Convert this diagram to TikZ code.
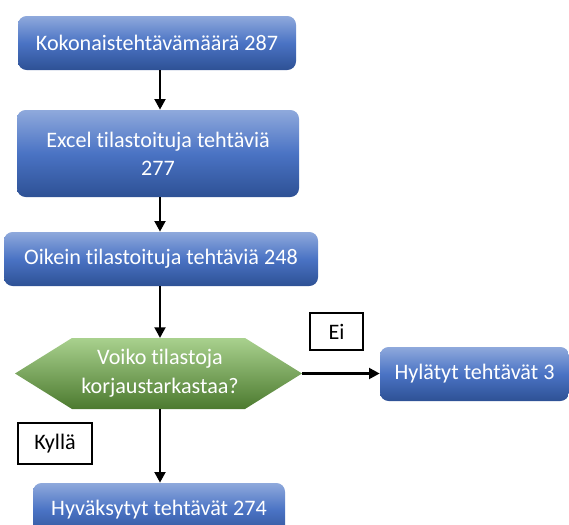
\documentclass[tikz,border=0pt]{standalone}
\usepackage{fontspec}
\setmainfont{Carlito}[Ligatures=NoCommon]
\usetikzlibrary{arrows.meta}
\definecolor{btop}{HTML}{8FA9DC}
\definecolor{bmid}{HTML}{4A73C4}
\definecolor{bbot}{HTML}{2E5195}
\definecolor{gtop}{HTML}{A9D18E}
\definecolor{gmid}{HTML}{74B04A}
\definecolor{gbot}{HTML}{4C7A2F}
\tikzset{
  bluebox/.style={rounded corners=6.5pt, shading=axis, top color=btop, bottom color=bbot, middle color=bmid,
    text=white, align=center, font=\fontsize{16.6}{21}\selectfont, inner sep=0pt},
  labelbox/.style={draw=black, line width=1.2pt, fill=white, text=black, font=\fontsize{16.6}{20}\selectfont, inner sep=0pt},
  flow/.style={line width=2pt, -{Triangle[length=8pt,width=8pt]}},
}
\begin{document}
\begin{tikzpicture}[x=0.75pt,y=-0.75pt]
\useasboundingbox (0,0) rectangle (569,525);
\begin{scope}
\clip (0,0) rectangle (569,525);
\node[bluebox, minimum width=278*0.75pt, minimum height=54*0.75pt] (b1) at (157,43) {Kokonaistehtävämäärä 287};
\node[bluebox, minimum width=282*0.75pt, minimum height=87*0.75pt] (b2) at (158,153.5) {Excel tilastoituja tehtäviä\\277};
\node[bluebox, minimum width=314*0.75pt, minimum height=54*0.75pt] (b3) at (161,259) {Oikein tilastoituja tehtäviä 248};
\shade[top color=gtop, middle color=gmid, bottom color=gbot] (15,373.5) -- (72,338) -- (245,338) -- (302,373.5) -- (245,409) -- (72,409) -- cycle;
\node[text=white, align=center, font=\fontsize{16.6}{22}\selectfont] (dec) at (160,373.5) {Voiko tilastoja\\korjaustarkastaa?};
\coordinate (decN) at (160,338);
\coordinate (decS) at (160,409);
\coordinate (decE) at (302,373.5);
\node[bluebox, minimum width=189*0.75pt, minimum height=54*0.75pt] (rej) at (474.5,374) {Hylätyt tehtävät 3};
\node[bluebox, minimum width=252*0.75pt, minimum height=54*0.75pt] (acc) at (159,510) {Hyväksytyt tehtävät 274};
\node[labelbox, minimum width=53*0.75pt, minimum height=37*0.75pt] (ei) at (336.5,331.5) {Ei};
\node[labelbox, minimum width=74*0.75pt, minimum height=41*0.75pt] (kyl) at (55,443.5) {Kyllä};
\draw[flow] (b1.south -| 160,0) -- (b2.north -| 160,0);
\draw[flow] (b2.south -| 160,0) -- (b3.north -| 160,0);
\draw[flow] (b3.south -| 160,0) -- (decN);
\draw[flow] (decS) -- (acc.north -| 160,0);
\draw[flow] (decE) -- (rej.west |- decE);
\end{scope}
\end{tikzpicture}
\end{document}
